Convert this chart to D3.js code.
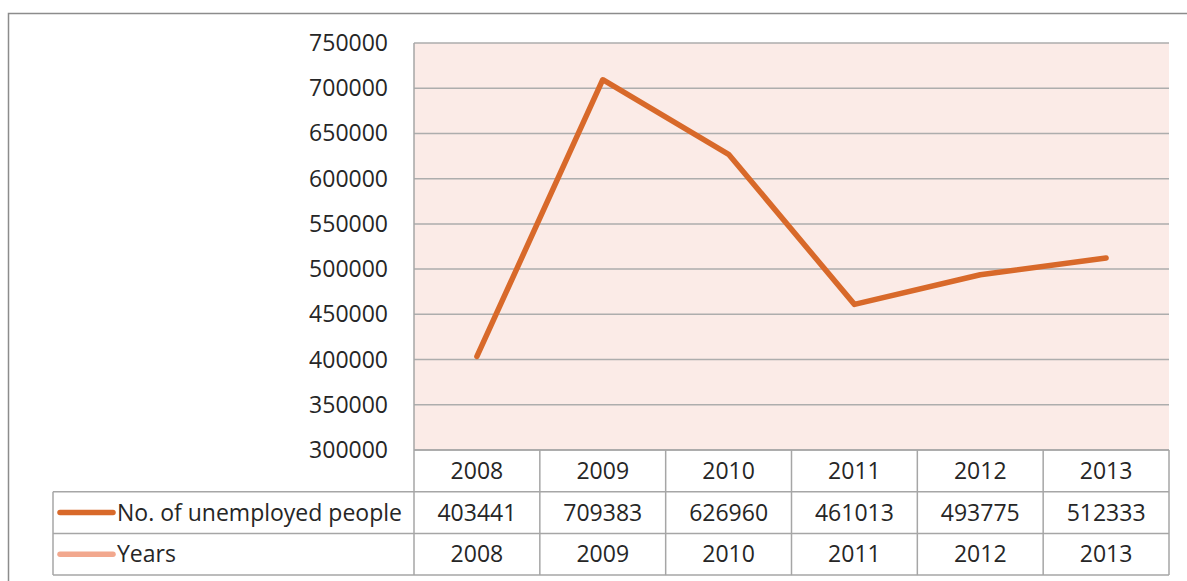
<!DOCTYPE html>
<html>
<head>
<meta charset="utf-8">
<script src="https://cdn.jsdelivr.net/npm/d3@7"></script>
<style>
  body { margin:0; background:#fff; }
  svg text { font-family:"Open Sans", "Liberation Sans", sans-serif; fill:#262626; }
</style>
</head>
<body>
<script>
var years = ["2008","2009","2010","2011","2012","2013"];
var unemployed = [403441, 709383, 626960, 461013, 493775, 512333];
var yTicks = [300000,350000,400000,450000,500000,550000,600000,650000,700000,750000];
var seriesNames = ["No. of unemployed people", "Years"];
var seriesColors = ["#d8692a", "#f2a88e"];

var W = 1187, H = 581;
var plotL = 414, plotR = 1169, plotT = 43, plotB = 450;
var rowH = 41.7;
var tableL = 53;
var fontSize = 23;

var svg = d3.select("body").append("svg")
  .attr("width", W).attr("height", H);

// outer frame
svg.append("rect")
  .attr("x", 8.5).attr("y", 13.5)
  .attr("width", W + 20).attr("height", H + 20)
  .attr("fill", "none").attr("stroke", "#8c8c8c").attr("stroke-width", 1.5);

var x = d3.scaleBand().domain(years).range([plotL, plotR]);
var y = d3.scaleLinear().domain([300000, 750000]).range([plotB, plotT]);

// plot background
svg.append("rect")
  .attr("x", plotL).attr("y", plotT)
  .attr("width", plotR - plotL).attr("height", plotB - plotT)
  .attr("fill", "#fbebe7");

// gridlines
svg.append("g").selectAll("line")
  .data(yTicks)
  .enter().append("line")
  .attr("x1", plotL).attr("x2", plotR)
  .attr("y1", function(d){ return y(d); })
  .attr("y2", function(d){ return y(d); })
  .attr("stroke", "#adadad").attr("stroke-width", 1.5);

// y labels
svg.append("g").selectAll("text")
  .data(yTicks)
  .enter().append("text")
  .attr("x", 388)
  .attr("y", function(d){ return y(d); })
  .attr("dy", "0.35em")
  .attr("text-anchor", "end")
  .attr("font-size", fontSize)
  .text(function(d){ return d; });

// data table grid
var grid = svg.append("g").attr("stroke", "#a6a6a6").attr("stroke-width", 1.5).attr("fill", "none");
var rowsY = [plotB, plotB + rowH, plotB + 2*rowH, plotB + 3*rowH];
// horizontal lines
grid.append("line").attr("x1", plotL).attr("x2", plotR).attr("y1", rowsY[0]).attr("y2", rowsY[0]);
for (var r = 1; r < rowsY.length; r++) {
  grid.append("line").attr("x1", tableL).attr("x2", plotR).attr("y1", rowsY[r]).attr("y2", rowsY[r]);
}
// vertical lines
grid.append("line").attr("x1", plotL).attr("x2", plotL).attr("y1", plotT).attr("y2", rowsY[3]);
grid.append("line").attr("x1", tableL).attr("x2", tableL).attr("y1", rowsY[1]).attr("y2", rowsY[3]);
grid.selectAll(".vcol")
  .data(years)
  .enter().append("line")
  .attr("class", "vcol")
  .attr("x1", function(d){ return x(d) + x.bandwidth(); })
  .attr("x2", function(d){ return x(d) + x.bandwidth(); })
  .attr("y1", rowsY[0]).attr("y2", rowsY[3]);

// table text
var tableRows = [years, unemployed, years];
tableRows.forEach(function(row, ri){
  svg.append("g").selectAll("text")
    .data(row)
    .enter().append("text")
    .attr("x", function(d, i){ return x(years[i]) + x.bandwidth()/2; })
    .attr("y", rowsY[ri] + rowH/2)
    .attr("dy", "0.35em")
    .attr("text-anchor", "middle")
    .attr("font-size", fontSize)
    .text(function(d){ return d; });
});

// legend keys in table
seriesNames.forEach(function(name, i){
  var cy = rowsY[i+1] + rowH/2;
  svg.append("line")
    .attr("x1", 60).attr("x2", 113)
    .attr("y1", cy).attr("y2", cy)
    .attr("stroke", seriesColors[i]).attr("stroke-width", 5.5)
    .attr("stroke-linecap", "round");
  svg.append("text")
    .attr("x", 117).attr("y", cy).attr("dy", "0.35em")
    .attr("font-size", fontSize)
    .text(name);
});

// the line
var line = d3.line()
  .x(function(d, i){ return x(years[i]) + x.bandwidth()/2; })
  .y(function(d){ return y(d); });

svg.append("path")
  .datum(unemployed)
  .attr("d", line)
  .attr("fill", "none")
  .attr("stroke", seriesColors[0])
  .attr("stroke-width", 5.5)
  .attr("stroke-linecap", "round")
  .attr("stroke-linejoin", "round");
</script>
</body>
</html>
